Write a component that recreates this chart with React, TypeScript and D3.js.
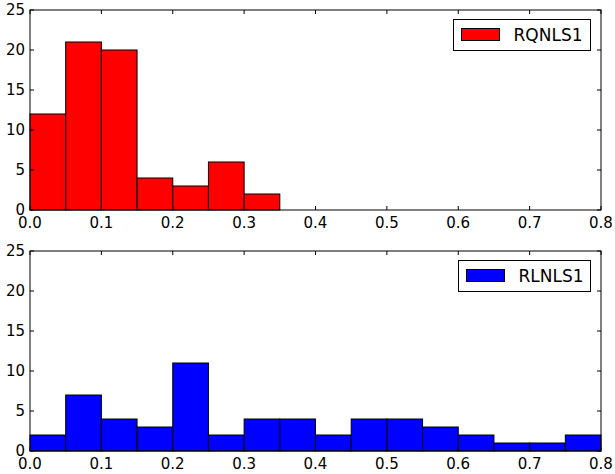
import React from "react";
import * as d3 from "d3";

const binEdges = [0, 0.05, 0.1, 0.15, 0.2, 0.25, 0.3, 0.35, 0.4, 0.45, 0.5, 0.55, 0.6, 0.65, 0.7, 0.75, 0.8];
const rqCounts = [12, 21, 20, 4, 3, 6, 2];
const rlCounts = [2, 7, 4, 3, 11, 2, 4, 4, 2, 4, 4, 3, 2, 1, 1, 2];
const xTicks = [0, 0.1, 0.2, 0.3, 0.4, 0.5, 0.6, 0.7, 0.8];
const yTicks = [0, 5, 10, 15, 20, 25];

const W = 615;
const H = 474;
const left = 30;
const right = 601;
const font = "DejaVu Sans, sans-serif";

function Panel({ top, bottom, counts, color, label, legendX }: any) {
  const x = d3.scaleLinear().domain([0, 0.8]).range([left, right]);
  const y = d3.scaleLinear().domain([0, 25]).range([bottom, top]);
  const fmt = d3.format(".1f");
  return (
    <g>
      {counts.map((c: number, i: number) => (
        <rect
          key={i}
          x={x(binEdges[i])}
          y={y(c)}
          width={x(binEdges[i + 1]) - x(binEdges[i])}
          height={y(0) - y(c)}
          fill={color}
          stroke="black"
          strokeWidth={1}
        />
      ))}
      <rect x={left} y={top} width={right - left} height={bottom - top} fill="none" stroke="black" strokeWidth={1} />
      {xTicks.map((t) => (
        <g key={"x" + t}>
          <line x1={x(t)} x2={x(t)} y1={bottom} y2={bottom - 4} stroke="black" />
          <line x1={x(t)} x2={x(t)} y1={top} y2={top + 4} stroke="black" />
          <text x={x(t)} y={bottom + 18} textAnchor="middle" fontSize={15} fontFamily={font}>
            {fmt(t)}
          </text>
        </g>
      ))}
      {yTicks.map((t) => (
        <g key={"y" + t}>
          <line x1={left} x2={left + 4} y1={y(t)} y2={y(t)} stroke="black" />
          <line x1={right} x2={right - 4} y1={y(t)} y2={y(t)} stroke="black" />
          <text x={left - 5} y={y(t)} dy="0.36em" textAnchor="end" fontSize={15} fontFamily={font}>
            {t}
          </text>
        </g>
      ))}
      <rect x={legendX} y={top + 9.5} width={590.5 - legendX} height={31} fill="white" stroke="black" strokeWidth={1} />
      <rect x={legendX + 8} y={top + 18.5} width={38} height={12} fill={color} stroke="black" strokeWidth={1} />
      <text x={legendX + 60} y={top + 30.5} fontSize={17} fontFamily={font}>
        {label}
      </text>
    </g>
  );
}

export default function App() {
  return (
    <svg width={W} height={H} style={{ position: "absolute", left: 0, top: 0 }}>
      <rect width={W} height={H} fill="white" />
      <Panel top={10} bottom={210} counts={rqCounts} color="#ff0000" label="RQNLS1" legendX={453.5} />
      <Panel top={251} bottom={451} counts={rlCounts} color="#0000ff" label="RLNLS1" legendX={458.5} />
    </svg>
  );
}
